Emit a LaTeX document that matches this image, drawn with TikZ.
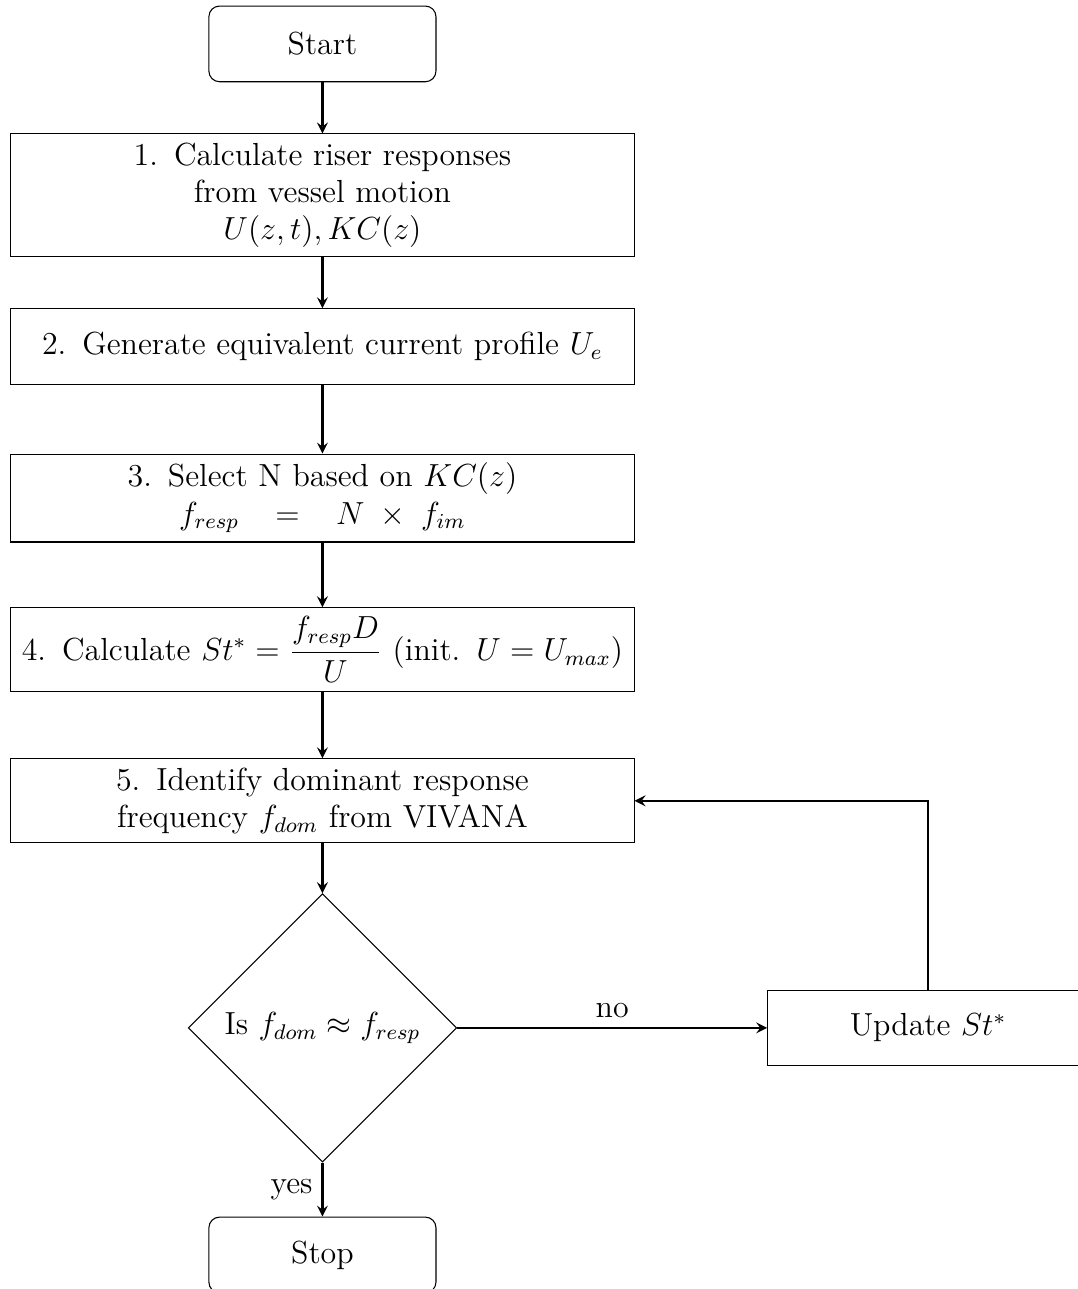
\documentclass[tikz,border=0pt]{standalone}
\usepackage{amsmath}
\usetikzlibrary{shapes.geometric}

\tikzset{
  startstop/.style={rectangle, rounded corners, minimum width=3cm, minimum height=1cm, draw},
  process/.style={rectangle, minimum height=1cm, text width=8cm, align=center, draw},
  decision/.style={diamond, aspect=1, align=center, draw},
  arrow/.style={thick, ->, >=stealth}
}

\begin{document}
\begin{tikzpicture}[font=\large]
\useasboundingbox (-4.26,0.58) rectangle (9.97,-16.45);

\node[startstop] (start) at (0,0) {Start};
\node[process] (pro1) at (0,-2) {1. Calculate riser responses\\ from vessel motion\\ $U(z,t), KC(z)$};
\node[process] (pro2) at (0,-4) {2. Generate equivalent current profile $U_e$};
\node[process] (pro3) at (0,-6) {3. Select N based on $KC(z)$\\ $f_{resp} \,=\, N \times f_{im}$};
\node[process] (pro4) at (0,-8) {4. Calculate $St^* = \dfrac{f_{resp}D}{U}$ (init. $U = U_{max}$)};
\node[process] (pro5) at (0,-10) {5. Identify dominant response\\ frequency $f_{dom}$ from VIVANA};
\node[decision, inner sep=3.9pt] (dec) at (0,-13) {Is $f_{dom} \approx f_{resp}$};
\node[process, text width=4cm] (upd) at (8,-13) {Update $St^*$};
\node[startstop] (stop) at (0,-16) {Stop};

\draw[arrow] (start) -- (pro1);
\foreach \a/\b in {pro1/pro2, pro2/pro3, pro3/pro4, pro4/pro5, pro5/dec}
    \draw[arrow] (\a) -- (\b);
\draw[arrow] (dec) -- node[anchor=south] {no} (upd);
\draw[arrow] (dec) -- node[anchor=east] {yes} (stop);
\draw[arrow] (upd) |- (pro5);

\end{tikzpicture}
\end{document}
